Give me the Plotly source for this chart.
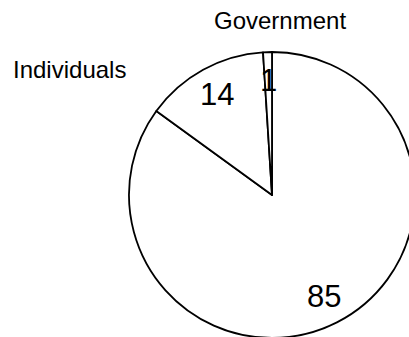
import math
import plotly.graph_objects as go

categories = ["Other", "Individuals", "Government"]
values = [85, 14, 1]
label_names = ["Individuals", "Government"]

W, H = 415, 338
FONT = "Liberation Sans, Arial, sans-serif"

# pie geometry (pixels)
CX, CY, R = 272, 195, 143
dom_x = [(CX - R) / W, (CX + R) / W]
dom_y = [1 - (CY + R) / H, 1 - (CY - R) / H]

fig = go.Figure(go.Pie(
    labels=categories,
    values=values,
    sort=False,
    direction="clockwise",
    rotation=0,
    textinfo="none",
    marker=dict(colors=["white"] * 3, line=dict(color="black", width=1.8)),
    domain=dict(x=dom_x, y=dom_y),
    showlegend=False,
    hoverinfo="label+value",
))

# value labels placed along each slice's mid-angle
total = sum(values)
cum = 0
for v in values:
    mid = (cum + v / 2) / total * 2 * math.pi
    cum += v
    px = CX + 0.8 * R * math.sin(mid)
    py = CY - 0.8 * R * math.cos(mid)
    fig.add_annotation(text=str(v), xref="paper", yref="paper", x=px / W, y=1 - py / H,
                       xanchor="center", yanchor="middle", showarrow=False,
                       font=dict(family=FONT, size=31, color="black"))

fig.add_annotation(text=label_names[0], xref="paper", yref="paper", x=69.5 / W, y=1 - 70 / H,
                   xanchor="center", yanchor="middle", showarrow=False,
                   font=dict(family=FONT, size=24, color="black"))
fig.add_annotation(text=label_names[1], xref="paper", yref="paper", x=279.5 / W, y=1 - 21 / H,
                   xanchor="center", yanchor="middle", showarrow=False,
                   font=dict(family=FONT, size=24, color="black"))

fig.update_layout(
    width=W, height=H, autosize=False,
    margin=dict(l=0, r=0, t=0, b=0),
    paper_bgcolor="white", plot_bgcolor="white",
)

fig.write_html("out.html", post_script="document.documentElement.style.overflow='hidden';document.body.style.overflow='hidden';")
